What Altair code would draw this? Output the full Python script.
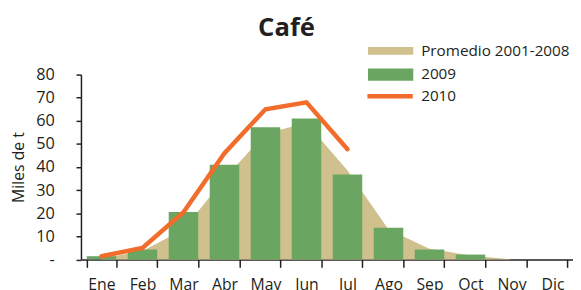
import altair as alt
import pandas as pd

months = ["Ene", "Feb", "Mar", "Abr", "May", "Jun", "Jul", "Ago", "Sep", "Oct", "Nov", "Dic"]
promedio = [0.4, 3.7, 13, 35, 54.5, 59, 38.5, 13, 4.6, 1.7, 0, 0]
v2009 = [1.4, 4.3, 20.5, 41, 57.2, 61, 36.8, 13.7, 4.3, 2.1, 0, 0]
v2010 = [1.4, 5, 20.4, 46, 65, 68, 47.7, None, None, None, None, None]
series = ["Promedio 2001-2008", "2009", "2010"]
colors = ["#d0c08e", "#6aa562", "#f26c2b"]
y_ticks = [0, 10, 20, 30, 40, 50, 60, 70, 80]

rows = []
for name, vals in zip(series, [promedio, v2009, v2010]):
    for m, v in zip(months, vals):
        if v is not None:
            rows.append({"mes": m, "serie": name, "valor": v})
df = pd.DataFrame(rows)

FONT = "Open Sans"
DARK = "#231f20"

x = alt.X("mes:N", sort=months,
          scale=alt.Scale(paddingInner=0.28, paddingOuter=0.14),
          axis=alt.Axis(title=None, labelAngle=0, tickBand="extent", tickSize=8,
                        tickWidth=1.5, domainWidth=1.5, domainColor=DARK, tickColor=DARK,
                        labelFont=FONT, labelFontSize=16, labelColor=DARK, labelPadding=9))
y = alt.Y("valor:Q", scale=alt.Scale(domain=[0, 80], nice=False),
          axis=alt.Axis(title="Miles de t", values=y_ticks, grid=False, tickSize=5,
                        tickWidth=1.5, domainWidth=1.5, domainColor=DARK, tickColor=DARK,
                        labelFont=FONT, labelFontSize=16.5, labelColor=DARK, labelPadding=22,
                        labelExpr="datum.value === 0 ? '-' : datum.label",
                        titleFont=FONT, titleFontSize=16, titleFontWeight="normal",
                        titleColor=DARK, titlePadding=9))


def legend(lx, ly, shape, sw=0, off=8):
    return alt.Legend(title=None, orient="none", legendX=lx, legendY=ly,
                      padding=0, symbolSize=2116, clipHeight=16,
                      labelOffset=off, labelFont=FONT, labelFontSize=15.5,
                      labelColor=DARK, symbolStrokeWidth=sw, symbolOpacity=1,
                      symbolType=shape)


area = alt.Chart(df).transform_filter(alt.datum.serie == series[0]).mark_area(opacity=1).encode(
    x=x, y=y,
    fill=alt.Fill("serie:N", scale=alt.Scale(domain=[series[0]], range=[colors[0]]),
                  legend=legend(291, -32, "M-1,-0.17H1V0.17H-1Z")))
bars = alt.Chart(df).transform_filter(alt.datum.serie == series[1]).mark_bar(opacity=1).encode(
    x=x, y=y,
    fill=alt.Fill("serie:N", scale=alt.Scale(domain=[series[1]], range=[colors[1]]),
                  legend=legend(291, -8, "M-1,-0.27H1V0.27H-1Z")))
line = alt.Chart(df).transform_filter(alt.datum.serie == series[2]).mark_line(
    strokeWidth=4.5, strokeCap="round", strokeJoin="miter").encode(
    x=x, y=y,
    stroke=alt.Stroke("serie:N", scale=alt.Scale(domain=[series[2]], range=[colors[2]]),
                      legend=legend(288, 14, "stroke", 4.5, 6)))

chart = alt.layer(area, bars, line).resolve_scale(
    fill="independent", stroke="independent"
).resolve_legend(fill="independent", stroke="independent").properties(
    width=499, height=187.5,
    title=alt.TitleParams("Café", font=FONT, fontSize=26, fontWeight="bold",
                          color=DARK, anchor="middle", dx=-41, offset=2),
    autosize=alt.AutoSizeParams(type="none"),
    padding={"left": 74, "top": 65.5, "right": 0, "bottom": 29},
).configure_view(stroke=None)

chart.save("out.html", embed_options={"renderer": "svg", "actions": False})
